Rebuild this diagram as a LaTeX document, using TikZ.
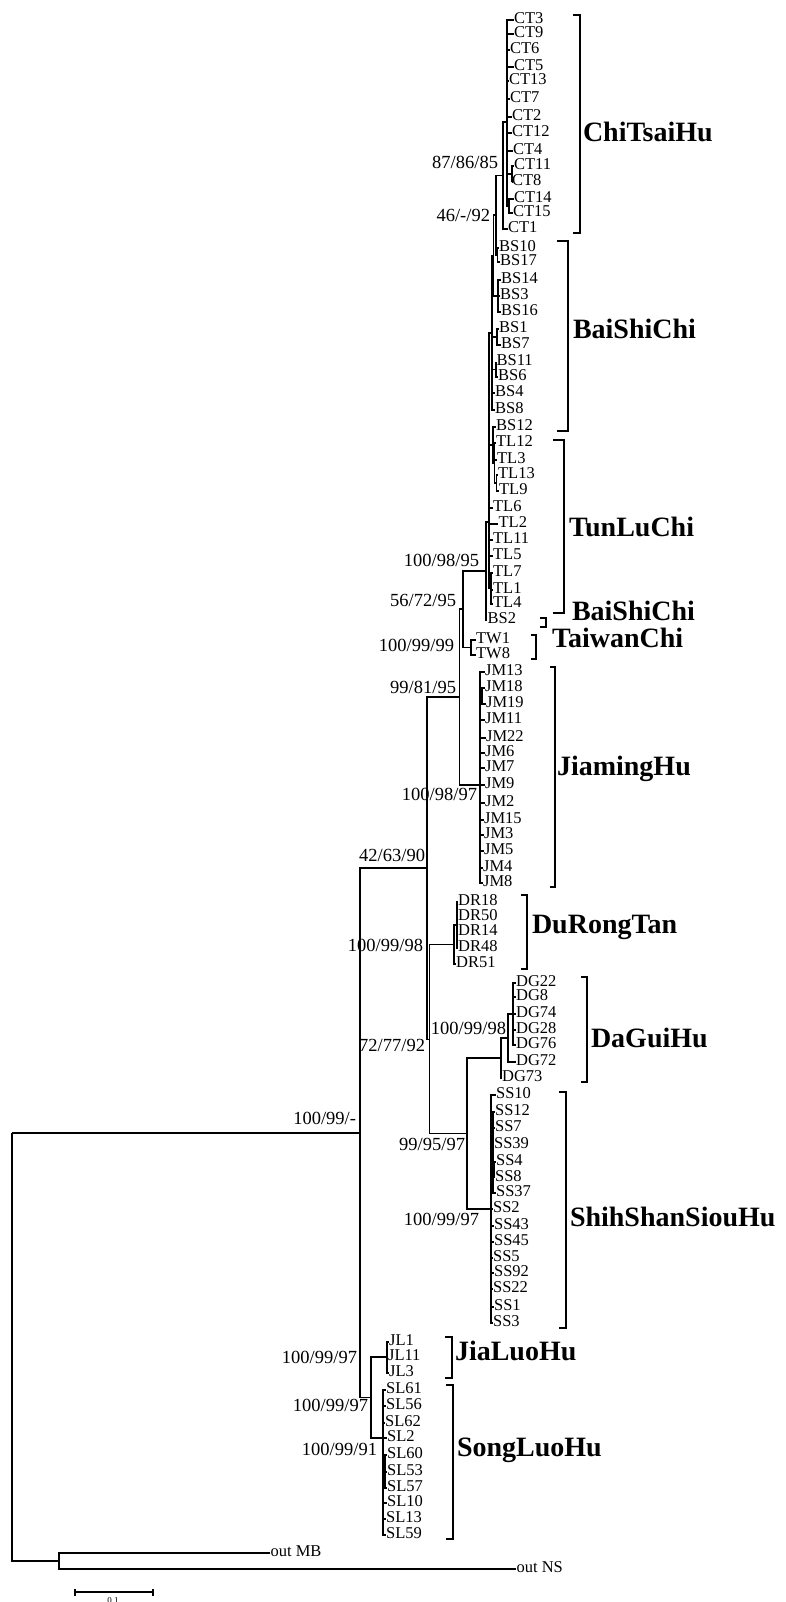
\documentclass[tikz,border=0pt]{standalone}
\usepackage{fontspec}
\setmainfont{Liberation Serif}
\tikzset{
  br/.style={line width=1.2pt},
  leaf/.style={anchor=west, inner sep=0.6pt, outer sep=0pt, font=\fontsize{16.5}{16.5}\selectfont, text height=0.66em, text depth=0pt},
  bsl/.style={anchor=east, inner sep=0pt, outer sep=0pt, font=\fontsize{18.5}{18.5}\selectfont, text height=0.68em, text depth=0pt},
  clade/.style={anchor=west, inner sep=0pt, outer sep=0pt, font=\fontsize{28}{28}\selectfont\bfseries, text height=0.66em, text depth=0pt},
}
\newcommand\Lf[5]{\node[leaf] (#1) at (#3,#4) {#5}; \draw[br] (#2) |- (#1.west);}
\newcommand\In[4]{\coordinate (#1) at (#3,#4); \draw[br] (#2) |- (#1);}
\newcommand\Brk[5]{\coordinate (#1-t) at (#2,#4); \coordinate (#1-b) at (#2,#5); \coordinate (#1-v) at (#3,#5); \draw[br] (#1-t) -| (#1-v) -- (#1-b);}
\begin{document}
\begin{tikzpicture}[x=1pt,y=-1pt]
\useasboundingbox (0,0) rectangle (785,1602);
% root and outgroup
\coordinate (root) at (12,1133);
\In{R1}{root}{360}{1133}
\In{OG}{root}{59}{1561}
\Lf{oMB}{OG}{270}{1553}{out MB}
\Lf{oNS}{OG}{516}{1569}{out NS}
% ingroup backbone
\In{D}{R1}{427}{868}
\In{G}{R1}{371}{1397.5}
\In{A}{D}{459.5}{697}
\In{E}{D}{429.5}{1039.5}
\In{B}{A}{463}{609}
\In{JMn}{A}{480}{785}
\In{C}{B}{486}{571}
\In{TWn}{B}{471}{647.5}
\In{X}{C}{489}{522}
\Lf{BS2}{C}{487}{620}{BS2}
% TL part
\In{Nd}{X}{492}{333}
\In{T1}{X}{493}{445}
\Lf{TL6}{X}{492.5}{508}{TL6}
\Lf{TL2}{X}{498}{524}{TL2}
\Lf{TL11}{X}{492.5}{540}{TL11}
\Lf{TL5}{X}{492.5}{556}{TL5}
\In{TLc}{X}{491}{588}
\Lf{TL7}{TLc}{492.5}{573}{TL7}
\Lf{TL1}{TLc}{492.5}{590}{TL1}
\Lf{TL4}{TLc}{492.5}{604}{TL4}
\Lf{BS12}{T1}{495.5}{427}{BS12}
\In{TLb}{T1}{494.5}{463}
\Lf{TL12}{TLb}{495.5}{443}{TL12}
\Lf{TL3}{TLb}{496.5}{460}{TL3}
\In{TLa}{TLb}{496.5}{483}
\Lf{TL13}{TLa}{497.5}{475}{TL13}
\Lf{TL9}{TLa}{498.5}{491}{TL9}
% BS part
\In{N46}{Nd}{493.5}{255.5}
\In{BSc}{Nd}{497}{337}
\Lf{BS1}{BSc}{498.5}{329}{BS1}
\Lf{BS7}{BSc}{500.5}{345}{BS7}
\In{BSd}{Nd}{496}{369.5}
\Lf{BS11}{BSd}{496}{362}{BS11}
\Lf{BS6}{BSd}{497.5}{377}{BS6}
\Lf{BS4}{Nd}{494.5}{393}{BS4}
\Lf{BS8}{Nd}{494.5}{410}{BS8}
\In{N87}{N46}{496}{215}
\In{BSb}{N46}{498}{296}
\Lf{BS14}{BSb}{500.5}{280}{BS14}
\Lf{BS3}{BSb}{499.5}{296}{BS3}
\Lf{BS16}{BSb}{500.5}{312}{BS16}
\In{CTn}{N87}{503}{175.5}
\In{BSa}{N87}{497.5}{255}
\Lf{BS10}{BSa}{498.5}{248}{BS10}
\Lf{BS17}{BSa}{499.5}{262}{BS17}
% CT part
\In{CTc}{CTn}{507}{122}
\Lf{CT1}{CTn}{507.5}{229}{CT1}
\Lf{CT3}{CTc}{513.5}{20}{CT3}
\Lf{CT9}{CTc}{513.5}{34}{CT9}
\Lf{CT6}{CTc}{509.5}{50}{CT6}
\Lf{CT5}{CTc}{513.5}{67}{CT5}
\Lf{CT13}{CTc}{508.5}{81}{CT13}
\Lf{CT7}{CTc}{509.5}{99}{CT7}
\Lf{CT2}{CTc}{511.5}{117}{CT2}
\Lf{CT12}{CTc}{511.5}{133}{CT12}
\Lf{CT4}{CTc}{512.5}{151}{CT4}
\In{CTa}{CTc}{512}{174}
\Lf{CT11}{CTa}{513.5}{166}{CT11}
\Lf{CT8}{CTa}{511.5}{182}{CT8}
\In{CTb}{CTc}{509}{206}
\Lf{CT14}{CTb}{513.5}{199}{CT14}
\Lf{CT15}{CTb}{512.5}{213}{CT15}
% TW
\Lf{TW1}{TWn}{475.5}{640}{TW1}
\Lf{TW8}{TWn}{475.5}{655}{TW8}
% JM
\Lf{JM13}{JMn}{484.5}{672}{JM13}
\In{JMa}{JMn}{482}{696}
\Lf{JM18}{JMa}{484.5}{688}{JM18}
\Lf{JM19}{JMa}{485.5}{704}{JM19}
\Lf{JM11}{JMn}{484.5}{720}{JM11}
\Lf{JM22}{JMn}{485.5}{738}{JM22}
\Lf{JM6}{JMn}{484.5}{753}{JM6}
\Lf{JM7}{JMn}{484.5}{768}{JM7}
\Lf{JM9}{JMn}{484.5}{785}{JM9}
\Lf{JM2}{JMn}{484.5}{803}{JM2}
\Lf{JM15}{JMn}{483.5}{820}{JM15}
\Lf{JM3}{JMn}{483.5}{835}{JM3}
\Lf{JM5}{JMn}{483.5}{851}{JM5}
\Lf{JM4}{JMn}{482.5}{868}{JM4}
\Lf{JM8}{JMn}{482.5}{883}{JM8}
% DR
\In{DRn}{E}{454}{944.5}
\In{DRin}{DRn}{457}{925}
\Lf{DR18}{DRin}{457.5}{902}{DR18}
\Lf{DR50}{DRin}{457.5}{917}{DR50}
\Lf{DR14}{DRin}{457.5}{932}{DR14}
\Lf{DR48}{DRin}{457.5}{948}{DR48}
\Lf{DR51}{DRn}{455.5}{964}{DR51}
% DG + SS
\In{F}{E}{467}{1133.5}
\In{DGc}{F}{501}{1058}
\In{DGb}{DGc}{508}{1038}
\In{DGa}{DGb}{513}{1014}
\Lf{DG22}{DGa}{515.5}{983}{DG22}
\Lf{DG8}{DGa}{515.5}{997}{DG8}
\Lf{DG74}{DGa}{515.5}{1014}{DG74}
\Lf{DG28}{DGa}{515.5}{1030}{DG28}
\Lf{DG76}{DGa}{515.5}{1045}{DG76}
\Lf{DG72}{DGb}{515.5}{1062}{DG72}
\Lf{DG73}{DGc}{501.5}{1078}{DG73}
\In{SSn}{F}{491}{1209}
\Lf{SS10}{SSn}{495.5}{1095}{SS10}
\In{SSi}{SSn}{493}{1152.5}
\Lf{SS12}{SSi}{494.5}{1112}{SS12}
\Lf{SS7}{SSi}{494.5}{1128}{SS7}
\Lf{SS39}{SSi}{493.5}{1145}{SS39}
\In{SSj}{SSi}{494.5}{1170}
\Lf{SS4}{SSj}{495.5}{1162}{SS4}
\Lf{SS8}{SSj}{494.5}{1178}{SS8}
\Lf{SS37}{SSi}{495.5}{1193}{SS37}
\Lf{SS2}{SSn}{492.5}{1209}{SS2}
\Lf{SS43}{SSn}{493.5}{1226}{SS43}
\Lf{SS45}{SSn}{493.5}{1242}{SS45}
\Lf{SS5}{SSn}{492.5}{1258}{SS5}
\Lf{SS92}{SSn}{493.5}{1273}{SS92}
\Lf{SS22}{SSn}{492.5}{1289}{SS22}
\Lf{SS1}{SSn}{493.5}{1307}{SS1}
\Lf{SS3}{SSn}{492.5}{1323}{SS3}
% JL + SL
\In{JLn}{G}{387}{1357}
\Lf{JL1}{JLn}{388.5}{1342}{JL1}
\Lf{JL11}{JLn}{387.5}{1357}{JL11}
\Lf{JL3}{JLn}{388.5}{1373}{JL3}
\In{SLn}{G}{383}{1438}
\Lf{SL61}{SLn}{385.5}{1390}{SL61}
\Lf{SL56}{SLn}{385.5}{1406}{SL56}
\Lf{SL62}{SLn}{384.5}{1423}{SL62}
\Lf{SL2}{SLn}{386.5}{1438}{SL2}
\In{SLa}{SLn}{385}{1471.5}
\Lf{SL60}{SLa}{386.5}{1455}{SL60}
\Lf{SL53}{SLa}{386.5}{1472}{SL53}
\Lf{SL57}{SLa}{386.5}{1488}{SL57}
\Lf{SL10}{SLn}{386.5}{1503}{SL10}
\Lf{SL13}{SLn}{385.5}{1519}{SL13}
\Lf{SL59}{SLn}{385.5}{1535}{SL59}
% bootstrap labels
\node[bsl] (b01) at (498,165) {87/86/85};
\node[bsl] (b02) at (490,218) {46/-/92};
\node[bsl] (b03) at (479,563) {100/98/95};
\node[bsl] (b04) at (456,603) {56/72/95};
\node[bsl] (b05) at (454,648) {100/99/99};
\node[bsl] (b06) at (456,690) {99/81/95};
\node[bsl] (b07) at (477,797) {100/98/97};
\node[bsl] (b08) at (425,858) {42/63/90};
\node[bsl] (b09) at (423,948) {100/99/98};
\node[bsl] (b10) at (506,1031) {100/99/98};
\node[bsl] (b11) at (425,1048) {72/77/92};
\node[bsl] (b12) at (465,1147) {99/95/97};
\node[bsl] (b13) at (479,1222) {100/99/97};
\node[bsl] (b14) at (356,1121) {100/99/-};
\node[bsl] (b15) at (357,1360) {100/99/97};
\node[bsl] (b16) at (368,1408) {100/99/97};
\node[bsl] (b17) at (377,1452) {100/99/91};
% clade brackets
\Brk{kct}{573}{580}{15}{233}
\Brk{kbs}{557}{568}{241}{431}
\Brk{ktl}{553}{564}{440}{613}
\Brk{kbt}{540}{546}{618}{627}
\Brk{ktw}{531}{536}{635}{659}
\Brk{kjm}{550}{555}{667}{887}
\Brk{kdr}{521}{527}{895}{969}
\Brk{kdg}{581}{587}{977}{1082}
\Brk{kss}{559}{566}{1092}{1328}
\Brk{kjl}{445}{452}{1337}{1378}
\Brk{ksl}{446}{453}{1385}{1539}
% clade labels
\node[clade] (cCT) at (583,138) {ChiTsaiHu};
\node[clade] (cBS) at (573,335) {BaiShiChi};
\node[clade] (cTL) at (569,533) {TunLuChi};
\node[clade] (cBT) at (572,617) {BaiShiChi};
\node[clade] (cTW) at (552,644.5) {TaiwanChi};
\node[clade] (cJM) at (557,772) {JiamingHu};
\node[clade] (cDR) at (532,930) {DuRongTan};
\node[clade] (cDG) at (591,1044) {DaGuiHu};
\node[clade] (cSS) at (570,1223) {ShihShanSiouHu};
\node[clade] (cJL) at (455,1357) {JiaLuoHu};
\node[clade] (cSL) at (457,1453) {SongLuoHu};
% scale bar
\coordinate (sbL) at (75,1592);
\coordinate (sbR) at (153,1592);
\draw[br] (sbL) -- (sbR);
\draw[br] ([yshift=-3.5pt]sbL) -- ([yshift=3.5pt]sbL);
\draw[br] ([yshift=-3.5pt]sbR) -- ([yshift=3.5pt]sbR);
\node[anchor=north, inner sep=0pt, font=\fontsize{9}{9}\selectfont] (sbt) at (113,1597) {0.1};
\end{tikzpicture}
\end{document}
